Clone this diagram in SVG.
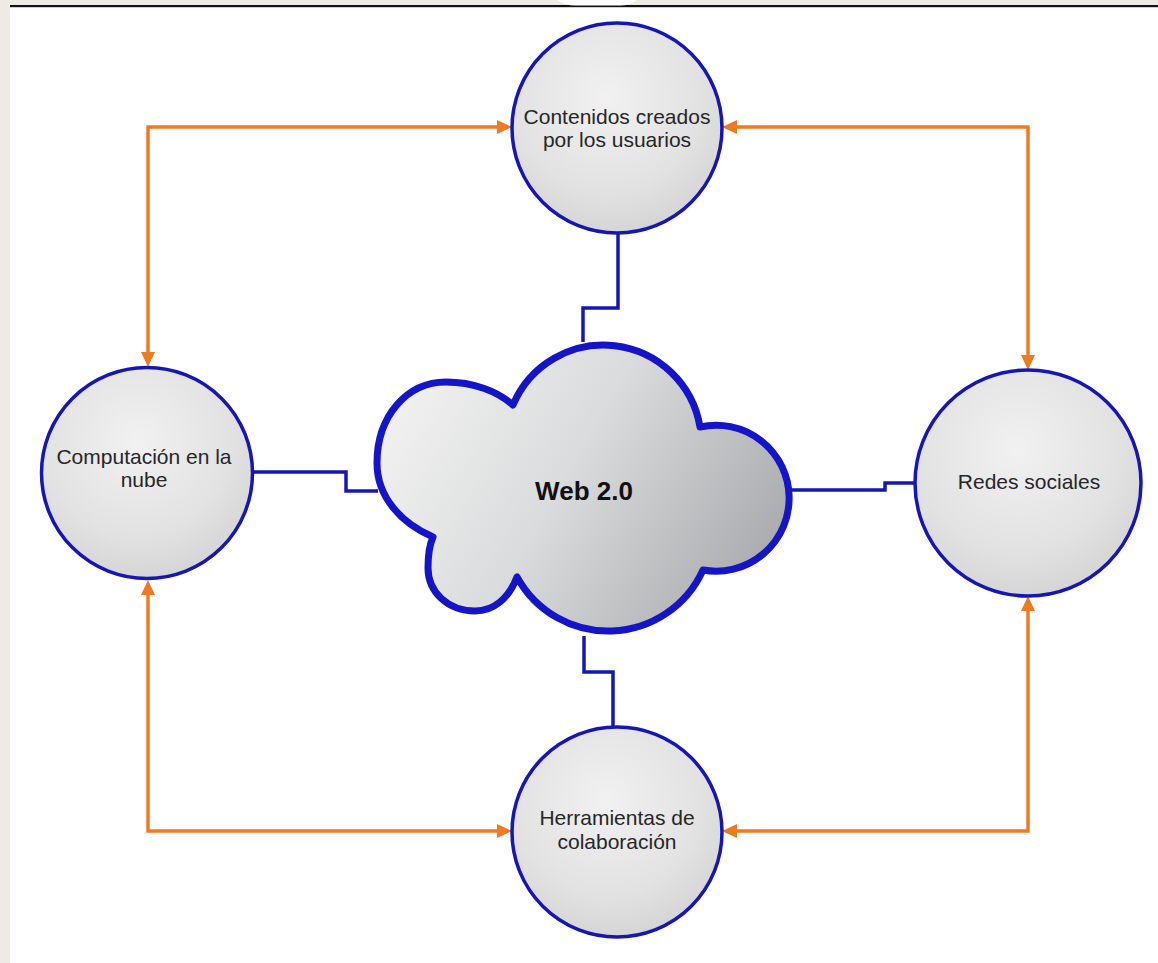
<svg xmlns="http://www.w3.org/2000/svg" width="1158" height="963" viewBox="0 0 1158 963">
  <style>
    .node-circle { stroke: #1616b4; stroke-width: 3.5; fill: url(#circleGrad); }
    .label { font-family: "Liberation Sans", Arial, sans-serif; font-size: 21px; fill: #262626; text-anchor: middle; }
    .title { font-family: "Liberation Sans", Arial, sans-serif; font-size: 26px; font-weight: bold; fill: #111; text-anchor: middle; }
    .blue { fill: none; stroke: #1616b4; stroke-width: 3.5; stroke-linejoin: miter; }
    .orange { fill: none; stroke: #ee7a22; stroke-width: 3.5; stroke-linejoin: miter; marker-start: url(#arrow); marker-end: url(#arrow); }
  </style>
  <defs>
    <radialGradient id="circleGrad" cx="0.45" cy="0.35" r="0.75">
      <stop offset="0" stop-color="#f1f1f1"/>
      <stop offset="0.6" stop-color="#e2e2e2"/>
      <stop offset="1" stop-color="#cfcfcf"/>
    </radialGradient>
    <linearGradient id="cloudGrad" x1="0" y1="0.3" x2="1" y2="0.7">
      <stop offset="0" stop-color="#f1f1f1"/>
      <stop offset="0.45" stop-color="#dadbdc"/>
      <stop offset="1" stop-color="#a7a9ac"/>
    </linearGradient>
    <marker id="arrow" markerUnits="userSpaceOnUse" markerWidth="16" markerHeight="16" viewBox="0 0 16 16" refX="4" refY="8" orient="auto-start-reverse">
      <path d="M0,1 L15,8 L0,15 z" fill="#ee7a22"/>
    </marker>
  </defs>

  <!-- background -->
  <rect x="0" y="0" width="1158" height="963" fill="#eeebe2"/>
  <rect x="10" y="7" width="1148" height="956" fill="#ffffff"/>
  <rect x="10" y="5" width="1148" height="2.2" fill="#111111"/>
  <path d="M557,0 Q565,5.5 575,5.5 H620 Q630,5.5 637,0 Z" fill="#ffffff"/>

  <!-- connectors -->
  <g id="connectors">
    <path class="blue" d="M618,233 V308 H583 V342"/>
    <path class="blue" d="M584,636 V672 H613 V728"/>
    <path class="blue" d="M252,472 H346 V491 H378"/>
    <path class="blue" d="M790,490 H885 V483 H916"/>

    <path class="orange" d="M148,356 V127 H501"/>
    <path class="orange" d="M1028,359 V127 H733"/>
    <path class="orange" d="M148,591 V831 H501"/>
    <path class="orange" d="M1028,607 V831 H733"/>
  </g>

  <!-- cloud -->
  <g id="node-web20">
    <path d="M513,405 A98,98 0 0 1 700,427 A73,73 0 1 1 703,570 A104,104 0 0 1 517,577
             C509,598 494,611 475,611 C448,611 428,592 428,568 C428,556 429,546 433,537
             C401,523 377,497 377,463 C377,416 407,382 446,382 C473,382 497,391 513,405 Z"
          fill="url(#cloudGrad)" stroke="#1414c8" stroke-width="7" stroke-linejoin="round"/>
    <text class="title" x="584" y="500">Web 2.0</text>
  </g>

  <g id="node-contenidos">
    <circle class="node-circle" cx="617" cy="128" r="105"/>
    <text class="label" x="617" y="124">Contenidos creados</text>
    <text class="label" x="617" y="147">por los usuarios</text>
  </g>

  <g id="node-computacion">
    <circle class="node-circle" cx="147" cy="473" r="105.5"/>
    <text class="label" x="144" y="464">Computación en la</text>
    <text class="label" x="144" y="487">nube</text>
  </g>

  <g id="node-redes">
    <circle class="node-circle" cx="1028" cy="483" r="113"/>
    <text class="label" x="1029" y="489">Redes sociales</text>
  </g>

  <g id="node-herramientas">
    <circle class="node-circle" cx="617" cy="832" r="105"/>
    <text class="label" x="617" y="825">Herramientas de</text>
    <text class="label" x="617" y="849">colaboración</text>
  </g>
</svg>
